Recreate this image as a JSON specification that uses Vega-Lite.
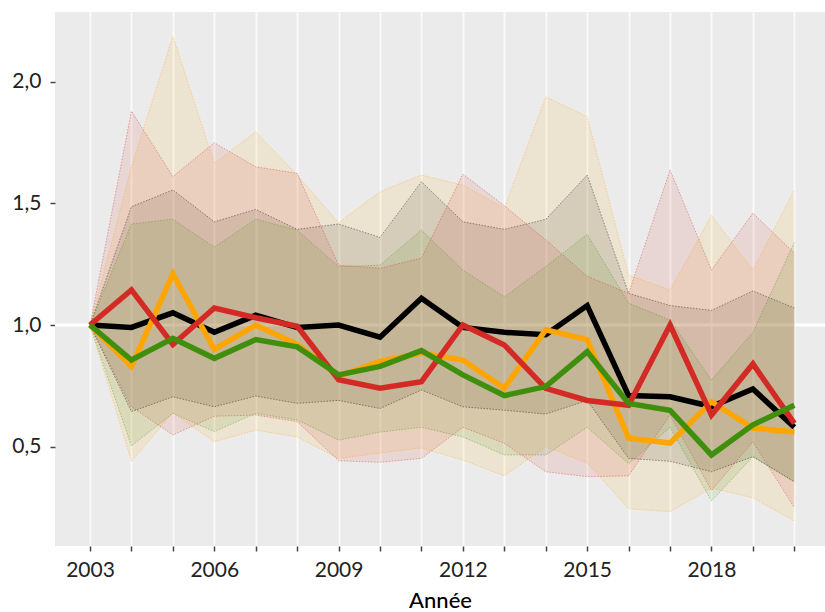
{
  "$schema": "https://vega.github.io/schema/vega-lite/v6.json",
  "width": 770,
  "height": 534,
  "autosize": {"type": "none"},
  "padding": {"left": 55, "top": 12, "right": 0, "bottom": 66},
  "background": "white",
  "config": {
    "view": {"fill": "#EBEBEB", "stroke": null},
    "font": "Lato",
    "axis": {"domain": false, "labelFont": "Lato", "titleFont": "Lato"}
  },
  "datasets": {
    "ref": [{"niveau": 1}],
    "series": [
      {"annee": 2003, "serie": "A", "valeur": 1.0, "bas": 1.0, "haut": 1.0},
      {"annee": 2004, "serie": "A", "valeur": 0.99, "bas": 0.644, "haut": 1.486},
      {"annee": 2005, "serie": "A", "valeur": 1.05, "bas": 0.705, "haut": 1.555},
      {"annee": 2006, "serie": "A", "valeur": 0.97, "bas": 0.664, "haut": 1.424},
      {"annee": 2007, "serie": "A", "valeur": 1.04, "bas": 0.708, "haut": 1.475},
      {"annee": 2008, "serie": "A", "valeur": 0.99, "bas": 0.678, "haut": 1.393},
      {"annee": 2009, "serie": "A", "valeur": 1.0, "bas": 0.69, "haut": 1.415},
      {"annee": 2010, "serie": "A", "valeur": 0.95, "bas": 0.657, "haut": 1.36},
      {"annee": 2011, "serie": "A", "valeur": 1.11, "bas": 0.733, "haut": 1.589},
      {"annee": 2012, "serie": "A", "valeur": 0.99, "bas": 0.664, "haut": 1.424},
      {"annee": 2013, "serie": "A", "valeur": 0.97, "bas": 0.65, "haut": 1.393},
      {"annee": 2014, "serie": "A", "valeur": 0.96, "bas": 0.634, "haut": 1.434},
      {"annee": 2015, "serie": "A", "valeur": 1.08, "bas": 0.69, "haut": 1.616},
      {"annee": 2016, "serie": "A", "valeur": 0.71, "bas": 0.452, "haut": 1.13},
      {"annee": 2017, "serie": "A", "valeur": 0.705, "bas": 0.44, "haut": 1.08},
      {"annee": 2018, "serie": "A", "valeur": 0.665, "bas": 0.397, "haut": 1.06},
      {"annee": 2019, "serie": "A", "valeur": 0.737, "bas": 0.459, "haut": 1.14},
      {"annee": 2020, "serie": "A", "valeur": 0.58, "bas": 0.356, "haut": 1.07},
      {"annee": 2003, "serie": "B", "valeur": 1.0, "bas": 1.0, "haut": 1.0},
      {"annee": 2004, "serie": "B", "valeur": 0.83, "bas": 0.44, "haut": 1.65},
      {"annee": 2005, "serie": "B", "valeur": 1.21, "bas": 0.64, "haut": 2.187},
      {"annee": 2006, "serie": "B", "valeur": 0.9, "bas": 0.52, "haut": 1.664},
      {"annee": 2007, "serie": "B", "valeur": 1.0, "bas": 0.568, "haut": 1.794},
      {"annee": 2008, "serie": "B", "valeur": 0.92, "bas": 0.54, "haut": 1.616},
      {"annee": 2009, "serie": "B", "valeur": 0.79, "bas": 0.452, "haut": 1.42},
      {"annee": 2010, "serie": "B", "valeur": 0.85, "bas": 0.474, "haut": 1.548},
      {"annee": 2011, "serie": "B", "valeur": 0.885, "bas": 0.495, "haut": 1.616},
      {"annee": 2012, "serie": "B", "valeur": 0.856, "bas": 0.445, "haut": 1.575},
      {"annee": 2013, "serie": "B", "valeur": 0.74, "bas": 0.38, "haut": 1.48},
      {"annee": 2014, "serie": "B", "valeur": 0.98, "bas": 0.5, "haut": 1.938},
      {"annee": 2015, "serie": "B", "valeur": 0.94, "bas": 0.433, "haut": 1.856},
      {"annee": 2016, "serie": "B", "valeur": 0.535, "bas": 0.245, "haut": 1.205},
      {"annee": 2017, "serie": "B", "valeur": 0.515, "bas": 0.233, "haut": 1.144},
      {"annee": 2018, "serie": "B", "valeur": 0.685, "bas": 0.33, "haut": 1.45},
      {"annee": 2019, "serie": "B", "valeur": 0.577, "bas": 0.29, "haut": 1.226},
      {"annee": 2020, "serie": "B", "valeur": 0.56, "bas": 0.195, "haut": 1.555},
      {"annee": 2003, "serie": "C", "valeur": 1.0, "bas": 1.0, "haut": 1.0},
      {"annee": 2004, "serie": "C", "valeur": 1.144, "bas": 0.664, "haut": 1.879},
      {"annee": 2005, "serie": "C", "valeur": 0.92, "bas": 0.548, "haut": 1.61},
      {"annee": 2006, "serie": "C", "valeur": 1.07, "bas": 0.625, "haut": 1.749},
      {"annee": 2007, "serie": "C", "valeur": 1.03, "bas": 0.63, "haut": 1.65},
      {"annee": 2008, "serie": "C", "valeur": 0.995, "bas": 0.603, "haut": 1.623},
      {"annee": 2009, "serie": "C", "valeur": 0.775, "bas": 0.442, "haut": 1.246},
      {"annee": 2010, "serie": "C", "valeur": 0.74, "bas": 0.436, "haut": 1.233},
      {"annee": 2011, "serie": "C", "valeur": 0.767, "bas": 0.452, "haut": 1.275},
      {"annee": 2012, "serie": "C", "valeur": 1.0, "bas": 0.58, "haut": 1.62},
      {"annee": 2013, "serie": "C", "valeur": 0.918, "bas": 0.514, "haut": 1.49},
      {"annee": 2014, "serie": "C", "valeur": 0.74, "bas": 0.397, "haut": 1.35},
      {"annee": 2015, "serie": "C", "valeur": 0.69, "bas": 0.377, "haut": 1.2},
      {"annee": 2016, "serie": "C", "valeur": 0.67, "bas": 0.38, "haut": 1.13},
      {"annee": 2017, "serie": "C", "valeur": 1.0, "bas": 0.63, "haut": 1.637},
      {"annee": 2018, "serie": "C", "valeur": 0.63, "bas": 0.32, "haut": 1.226},
      {"annee": 2019, "serie": "C", "valeur": 0.84, "bas": 0.52, "haut": 1.46},
      {"annee": 2020, "serie": "C", "valeur": 0.596, "bas": 0.25, "haut": 1.295},
      {"annee": 2003, "serie": "D", "valeur": 1.0, "bas": 1.0, "haut": 1.0},
      {"annee": 2004, "serie": "D", "valeur": 0.856, "bas": 0.503, "haut": 1.415},
      {"annee": 2005, "serie": "D", "valeur": 0.945, "bas": 0.637, "haut": 1.435},
      {"annee": 2006, "serie": "D", "valeur": 0.863, "bas": 0.562, "haut": 1.32},
      {"annee": 2007, "serie": "D", "valeur": 0.94, "bas": 0.637, "haut": 1.435},
      {"annee": 2008, "serie": "D", "valeur": 0.91, "bas": 0.61, "haut": 1.39},
      {"annee": 2009, "serie": "D", "valeur": 0.795, "bas": 0.527, "haut": 1.24},
      {"annee": 2010, "serie": "D", "valeur": 0.83, "bas": 0.56, "haut": 1.246},
      {"annee": 2011, "serie": "D", "valeur": 0.895, "bas": 0.58, "haut": 1.39},
      {"annee": 2012, "serie": "D", "valeur": 0.795, "bas": 0.54, "haut": 1.226},
      {"annee": 2013, "serie": "D", "valeur": 0.71, "bas": 0.466, "haut": 1.116},
      {"annee": 2014, "serie": "D", "valeur": 0.747, "bas": 0.466, "haut": 1.24},
      {"annee": 2015, "serie": "D", "valeur": 0.89, "bas": 0.58, "haut": 1.373},
      {"annee": 2016, "serie": "D", "valeur": 0.678, "bas": 0.43, "haut": 1.09},
      {"annee": 2017, "serie": "D", "valeur": 0.65, "bas": 0.58, "haut": 1.02},
      {"annee": 2018, "serie": "D", "valeur": 0.466, "bas": 0.277, "haut": 0.774},
      {"annee": 2019, "serie": "D", "valeur": 0.59, "bas": 0.459, "haut": 0.97},
      {"annee": 2020, "serie": "D", "valeur": 0.67, "bas": 0.355, "haut": 1.34}
    ]
  },
  "resolve": {"scale": {"y": "shared", "x": "shared", "color": "shared"}},
  "layer": [
    {
      "data": {"name": "ref"},
      "mark": {"type": "rule", "color": "#FFFFFF", "strokeWidth": 3},
      "encoding": {
        "y": {"field": "niveau", "type": "quantitative",
              "scale": {"domain": [0.092, 2.286], "nice": false, "zero": false},
              "axis": {"values": [0.5, 1, 1.5, 2], "grid": false, "title": null,
                       "labelExpr": "replace(format(datum.value, '.1f'), '.', ',')",
                       "labelFontSize": 21, "labelColor": "#222222", "labelPadding": 9,
                       "tickSize": 5, "tickWidth": 1.5, "tickColor": "#444444"}}
      }
    },
    {
      "data": {"name": "series"},
      "mark": {"type": "area", "fillOpacity": 0.11, "interpolate": "linear"},
      "encoding": {
        "x": {"field": "annee", "type": "quantitative",
              "scale": {"domain": [2002.155, 2020.74], "nice": false, "zero": false},
              "axis": {"values": [2003, 2004, 2005, 2006, 2007, 2008, 2009, 2010, 2011, 2012, 2013, 2014, 2015, 2016, 2017, 2018, 2019, 2020],
                       "format": "d",
                       "labelExpr": "(datum.value - 2003) % 3 == 0 ? datum.label : ''",
                       "grid": true, "gridColor": "#FAFAFA", "gridWidth": 2,
                       "tickSize": 5, "tickWidth": 1.5, "tickColor": "#444444",
                       "labelFontSize": 21, "labelColor": "#222222", "labelPadding": 8,
                       "title": "Année", "titleFontSize": 22, "titleFontWeight": 500,
                       "titleColor": "#000000", "titlePadding": 10}},
        "y": {"field": "bas", "type": "quantitative", "title": null},
        "y2": {"field": "haut"},
        "color": {"field": "serie", "type": "nominal",
                  "scale": {"domain": ["A", "B", "C", "D"], "range": ["#000000", "#FFA500", "#D42A26", "#3F8F0C"]},
                  "legend": null}
      }
    },
    {
      "data": {"name": "series"},
      "mark": {"type": "line", "strokeWidth": 1, "strokeDash": [1.5, 1.5], "opacity": 0.4},
      "encoding": {
        "x": {"field": "annee", "type": "quantitative"},
        "y": {"field": "haut", "type": "quantitative", "title": null},
        "color": {"field": "serie", "type": "nominal", "legend": null}
      }
    },
    {
      "data": {"name": "series"},
      "mark": {"type": "line", "strokeWidth": 1, "strokeDash": [1.5, 1.5], "opacity": 0.4},
      "encoding": {
        "x": {"field": "annee", "type": "quantitative"},
        "y": {"field": "bas", "type": "quantitative", "title": null},
        "color": {"field": "serie", "type": "nominal", "legend": null}
      }
    },
    {
      "data": {"name": "series"},
      "mark": {"type": "line", "strokeWidth": 5.5},
      "encoding": {
        "x": {"field": "annee", "type": "quantitative"},
        "y": {"field": "valeur", "type": "quantitative", "title": null},
        "color": {"field": "serie", "type": "nominal", "legend": null}
      }
    }
  ]
}
